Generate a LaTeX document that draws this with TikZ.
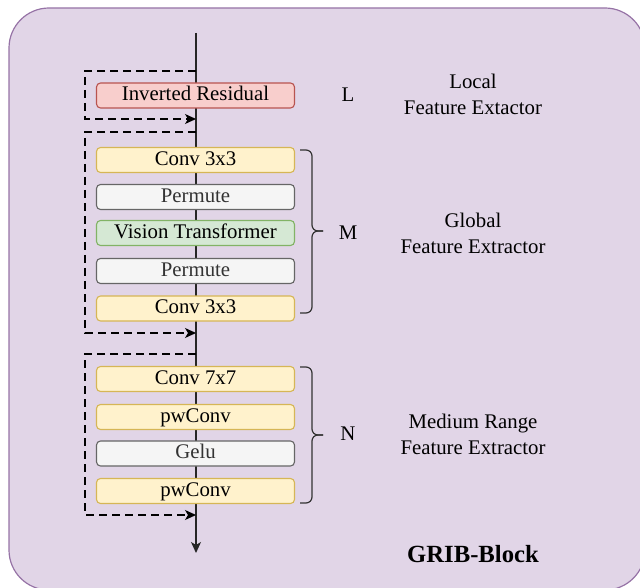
\documentclass[tikz,border=0pt]{standalone}
\usepackage{fontspec}
\setmainfont{Liberation Serif}
\usetikzlibrary{arrows.meta}
\definecolor{outerfill}{HTML}{E1D5E7}
\definecolor{outerline}{HTML}{9673A6}
\definecolor{redfill}{HTML}{F8CECC}
\definecolor{redline}{HTML}{B85450}
\definecolor{yelfill}{HTML}{FFF2CC}
\definecolor{yelline}{HTML}{D6B656}
\definecolor{greyfill}{HTML}{F5F5F5}
\definecolor{greyline}{HTML}{666666}
\definecolor{greytext}{HTML}{333333}
\definecolor{grnfill}{HTML}{D5E8D4}
\definecolor{grnline}{HTML}{82B366}
\begin{document}
\begin{tikzpicture}[x=1pt,y=-1pt,
  boxbase/.style={draw, rounded corners=4pt, minimum width=198pt, minimum height=25pt,
    inner sep=0pt, line width=1.1pt, font=\fontsize{20.8}{26}\selectfont,
    text height=14pt, text depth=3.6pt},
  redbox/.style={boxbase, fill=redfill, draw=redline},
  yelbox/.style={boxbase, fill=yelfill, draw=yelline},
  greybox/.style={boxbase, fill=greyfill, draw=greyline, text=greytext},
  grnbox/.style={boxbase, fill=grnfill, draw=grnline},
  spine/.style={line width=1.3pt, draw=black!85},
  skip/.style={line width=1.3pt, dash pattern=on 8pt off 5pt, -{Stealth[length=11pt,width=10pt,inset=3pt]}},
  bracestyle/.style={line width=1.2pt, draw=black!80, rounded corners=6pt},
  lbl/.style={font=\fontsize{20.8}{26}\selectfont, inner sep=0pt, anchor=base},
  desc/.style={font=\fontsize{20.8}{26}\selectfont, inner sep=0pt, align=center, anchor=base},
]
\useasboundingbox (0,0) rectangle (640,588);
\begin{scope}
\clip (0,0) rectangle (640,588);
\draw[fill=outerfill, draw=outerline, line width=1.2pt, rounded corners=40pt] (9,8) rectangle (645,590);
\end{scope}

% spine
\coordinate (top) at (196,33);
\coordinate (bot) at (196,553);
\draw[spine, -{Stealth[length=11pt,width=10pt,inset=3pt]}] (top) -- (bot);

% skip connections
\coordinate (l1) at (196,71);  \coordinate (l2) at (196,119);
\coordinate (m1) at (196,132); \coordinate (m2) at (196,333);
\coordinate (n1) at (196,354); \coordinate (n2) at (196,515);
\draw[skip] (l1) -- (85,71) |- (l2);
\draw[skip] (m1) -- (85,132) |- (m2);
\draw[skip] (n1) -- (85,354) |- (n2);

% blocks
\node[redbox]  (ir)  at (195.5,95.5)  {Inverted Residual};
\node[yelbox]  (c1)  at (195.5,160)   {Conv 3x3};
\node[greybox] (p1)  at (195.5,197)   {Permute};
\node[grnbox]  (vt)  at (195.5,233)   {Vision Transformer};
\node[greybox] (p2)  at (195.5,271)   {Permute};
\node[yelbox]  (c2)  at (195.5,308.5) {Conv 3x3};
\node[yelbox]  (c7)  at (195.5,379)   {Conv 7x7};
\node[yelbox]  (pw1) at (195.5,417)   {pwConv};
\node[greybox] (ge)  at (195.5,453.5) {Gelu};
\node[yelbox]  (pw2) at (195.5,491)   {pwConv};

% braces
\draw[bracestyle] (300,150) -- (312,150) -- (312,231) -- (323,231);
\draw[bracestyle] (300,313) -- (312,313) -- (312,231) -- (323,231);
\draw[bracestyle] (300,367) -- (312,367) -- (312,435) -- (323,435);
\draw[bracestyle] (300,503) -- (312,503) -- (312,435) -- (323,435);

% labels
\node[lbl] (lL) at (348,101.7) {L};
\node[lbl] (lM) at (348,240) {M};
\node[lbl] (lN) at (348,440.7) {N};
\node[desc] (dL) at (473,115) {Local\\Feature Extactor};
\node[desc] (dM) at (473,253.3) {Global\\Feature Extractor};
\node[desc] (dN) at (473,454) {Medium Range\\Feature Extractor};
\node[font=\fontsize{24.7}{30}\selectfont\bfseries, inner sep=0pt, anchor=base] (title) at (473,562.7) {GRIB-Block};
\end{tikzpicture}
\end{document}
